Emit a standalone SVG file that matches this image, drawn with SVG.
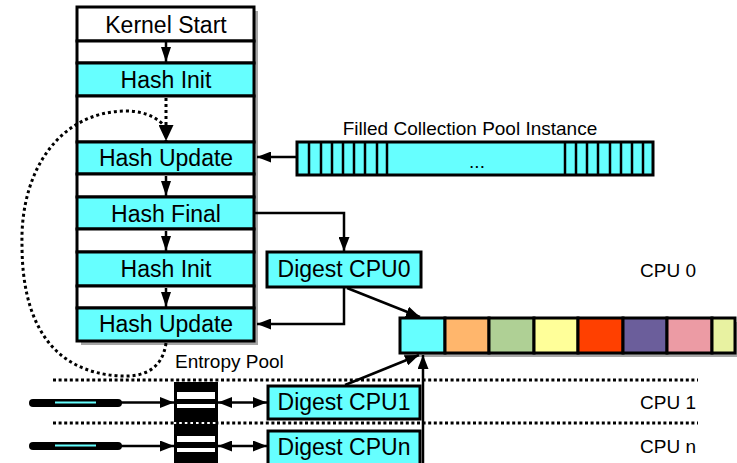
<svg xmlns="http://www.w3.org/2000/svg" width="737" height="463" viewBox="0 0 737 463">
<style>
text{font-family:"Liberation Sans",Arial,sans-serif;fill:#000}
.big{font-size:23px;text-anchor:middle}
.sm{font-size:19px}
.box{stroke:#000;stroke-width:3}
.cy{fill:#66ffff}
.wh{fill:#fff}
.sh{fill:#a6a6a6}
.ln{fill:none;stroke:#000;stroke-width:2.5}
.dot{fill:none;stroke:#000;stroke-width:3;stroke-dasharray:3 3}
.sep{fill:none;stroke:#000;stroke-width:3;stroke-dasharray:3 2.6}
.slot{stroke:#000;stroke-width:2.5}
</style>
<defs>
<marker id="arrow" viewBox="0 0 14 11" refX="14" refY="5.5" markerWidth="14" markerHeight="11" markerUnits="userSpaceOnUse" orient="auto-start-reverse"><path d="M0,0 L14,5.5 L0,11 z" fill="#000"/></marker>
<marker id="arrow-s" viewBox="0 0 15 10" refX="15" refY="5" markerWidth="15" markerHeight="10" markerUnits="userSpaceOnUse" orient="auto"><path d="M0,0 L15,5 L0,10 z" fill="#000"/></marker>
<marker id="arrow-b" viewBox="0 0 16 15" refX="16" refY="7.5" markerWidth="16" markerHeight="15" markerUnits="userSpaceOnUse" orient="auto"><path d="M0,0 L16,7.5 L0,15 z" fill="#000"/></marker>
</defs>
<rect width="737" height="463" fill="#fff"/>

<!-- separators between CPUs -->
<g id="cpu-separators">
<line class="sep" x1="53" y1="380" x2="698" y2="380"/>
<line class="sep" x1="53" y1="423" x2="698" y2="423"/>
</g>

<g id="kernel-column">
<rect class="sh" x="81" y="11" width="177" height="334"/>
<rect class="box wh" x="77" y="7" width="177" height="34"/>
<rect class="box wh" x="77" y="41" width="177" height="22"/>
<rect class="box cy" x="77" y="63" width="177" height="33"/>
<rect class="box wh" x="77" y="96" width="177" height="46"/>
<rect class="box cy" x="77" y="142" width="177" height="32"/>
<rect class="box wh" x="77" y="174" width="177" height="23"/>
<rect class="box cy" x="77" y="197" width="177" height="32"/>
<rect class="box wh" x="77" y="229" width="177" height="23"/>
<rect class="box cy" x="77" y="252" width="177" height="34"/>
<rect class="box wh" x="77" y="286" width="177" height="22"/>
<rect class="box cy" x="77" y="308" width="177" height="33"/>
<text class="big" x="166" y="33">Kernel Start</text>
<text class="big" x="166" y="88">Hash Init</text>
<text class="big" x="166" y="166">Hash Update</text>
<text class="big" x="166" y="222">Hash Final</text>
<text class="big" x="166" y="277">Hash Init</text>
<text class="big" x="166" y="332">Hash Update</text>
</g>

<g id="pool-instance">
<text class="sm" x="470" y="135" text-anchor="middle">Filled Collection Pool Instance</text>
<rect class="box cy" x="297" y="142" width="356" height="33"/>
<g class="slot">
<line x1="309" y1="142" x2="309" y2="175"/><line x1="321" y1="142" x2="321" y2="175"/>
<line x1="332" y1="142" x2="332" y2="175"/><line x1="343" y1="142" x2="343" y2="175"/>
<line x1="354" y1="142" x2="354" y2="175"/><line x1="365" y1="142" x2="365" y2="175"/>
<line x1="377" y1="142" x2="377" y2="175"/><line x1="387" y1="142" x2="387" y2="175"/>
<line x1="565" y1="142" x2="565" y2="175"/><line x1="576" y1="142" x2="576" y2="175"/>
<line x1="587" y1="142" x2="587" y2="175"/><line x1="598" y1="142" x2="598" y2="175"/>
<line x1="610" y1="142" x2="610" y2="175"/><line x1="621" y1="142" x2="621" y2="175"/>
<line x1="632" y1="142" x2="632" y2="175"/><line x1="643" y1="142" x2="643" y2="175"/>
</g>
<text class="sm" x="477" y="168" text-anchor="middle">...</text>
</g>

<g id="digest-cpu0">
<rect class="box cy" x="267" y="252" width="154" height="35"/>
<text class="big" x="344" y="277">Digest CPU0</text>
</g>
<g id="digest-cpu1">
<rect class="box cy" x="268" y="386" width="152" height="33"/>
<text class="big" x="344" y="410">Digest CPU1</text>
</g>
<g id="digest-cpun">
<rect class="box cy" x="268" y="431" width="152" height="40"/>
<text class="big" x="344" y="455">Digest CPUn</text>
</g>

<g id="global-pool">
<rect class="sh" x="404" y="322" width="335" height="35"/>
<rect class="box" fill="#66ffff" x="400" y="318" width="45" height="35"/>
<rect class="box" fill="#ffb66c" x="445" y="318" width="44" height="35"/>
<rect class="box" fill="#afd095" x="489" y="318" width="45" height="35"/>
<rect class="box" fill="#ffff99" x="534" y="318" width="44" height="35"/>
<rect class="box" fill="#ff4000" x="578" y="318" width="45" height="35"/>
<rect class="box" fill="#6b5e9b" x="623" y="318" width="44" height="35"/>
<rect class="box" fill="#ec9ba4" x="667" y="318" width="45" height="35"/>
<rect class="box" fill="#e8f2a1" x="712" y="318" width="23" height="35"/>
</g>

<g id="entropy-pool">
<text class="sm" x="175" y="368">Entropy Pool</text>
<rect fill="#000" x="174" y="382" width="44" height="40"/>
<rect fill="#000" x="174" y="424" width="44" height="40"/>
<rect fill="#fff" x="177" y="392" width="38" height="7"/>
<rect fill="#fff" x="177" y="404" width="38" height="4"/>
<rect fill="#fff" x="177" y="436" width="38" height="6"/>
<rect fill="#fff" x="177" y="448" width="38" height="4"/>
</g>

<g id="source-cpu1">
<line x1="33" y1="403" x2="118" y2="403" stroke="#000" stroke-width="8" stroke-linecap="round"/>
<line x1="55" y1="402.5" x2="96" y2="402.5" stroke="#66ffff" stroke-width="1.8"/>
</g>
<g id="source-cpun">
<line x1="33" y1="446" x2="118" y2="446" stroke="#000" stroke-width="8" stroke-linecap="round"/>
<line x1="55" y1="445.5" x2="96" y2="445.5" stroke="#66ffff" stroke-width="1.8"/>
</g>

<g id="cpu-labels">
<text class="sm" x="640" y="277">CPU 0</text>
<text class="sm" x="640" y="409">CPU 1</text>
<text class="sm" x="640" y="453">CPU n</text>
</g>

<g id="connectors">
<line class="ln" x1="166" y1="42" x2="166" y2="62" marker-end="url(#arrow-s)"/>
<line class="dot" x1="166" y1="98" x2="166" y2="141" marker-end="url(#arrow-b)"/>
<path class="dot" d="M166,343 C162,372 140,377 120,376 C50,372 22,320 22,245 C20,170 60,112 125,111 C148,111 160,120 166,128"/>
<line class="ln" x1="166" y1="176" x2="166" y2="196" marker-end="url(#arrow-s)"/>
<line class="ln" x1="166" y1="231" x2="166" y2="251" marker-end="url(#arrow-s)"/>
<line class="ln" x1="166" y1="288" x2="166" y2="307" marker-end="url(#arrow-s)"/>
<line class="ln" x1="297" y1="157" x2="257" y2="157" marker-end="url(#arrow)"/>
<path class="ln" d="M255,213 H344 V251" marker-end="url(#arrow)"/>
<path class="ln" d="M344,288 V324 H257" marker-end="url(#arrow)"/>
<line class="ln" x1="347" y1="288" x2="420" y2="317" marker-end="url(#arrow)"/>
<line class="ln" x1="345" y1="385" x2="419" y2="355" marker-end="url(#arrow)"/>
<line class="ln" x1="423" y1="463" x2="423" y2="355" marker-end="url(#arrow)"/>
<line class="ln" x1="120" y1="402.5" x2="174" y2="402.5" marker-end="url(#arrow)"/>
<line class="ln" x1="120" y1="446" x2="174" y2="446" marker-end="url(#arrow)"/>
<line class="ln" x1="218" y1="402.5" x2="267" y2="402.5" marker-start="url(#arrow)" marker-end="url(#arrow)"/>
<line class="ln" x1="218" y1="446" x2="267" y2="446" marker-start="url(#arrow)" marker-end="url(#arrow)"/>
</g>
</svg>
